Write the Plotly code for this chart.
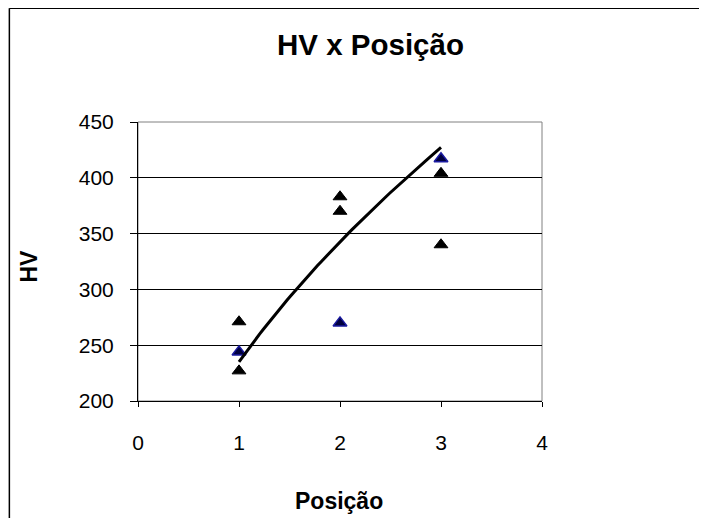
import plotly.graph_objects as go
import numpy as np

# Data
pos_black = [1, 1, 2, 2, 3, 3]
hv_black = [271, 227, 383, 370, 404, 340]
pos_blue = [1, 2, 3]
hv_blue = [244, 270, 417]

# Power trendline parameters (y = a * x^b)
trend_a = 235
trend_b = 0.544
trend_x = np.linspace(1, 3, 60)
trend_y = trend_a * trend_x ** trend_b

x_ticks = [0, 1, 2, 3, 4]
y_ticks = [200, 250, 300, 350, 400, 450]

OFF = 8  # page body offset
W, H = 707 - OFF, 518 - OFF
L = 137.5 - OFF
T = 122.3 - OFF
R = W - (541.7 - OFF)
B = H - (400.7 - OFF)
pw, ph = W - L - R, H - T - B

def px(x):  # screenshot x -> paper
    return (x - OFF - L) / pw

def py(y):  # screenshot y -> paper
    return (H - B - (y - OFF)) / ph

fig = go.Figure()
fig.add_trace(go.Scatter(x=pos_black, y=hv_black, mode="markers",
                         marker=dict(symbol="triangle-up", size=12, color="black",
                                     line=dict(color="black", width=1)),
                         showlegend=False))
fig.add_trace(go.Scatter(x=pos_blue, y=hv_blue, mode="markers",
                         marker=dict(symbol="triangle-up", size=12, color="#000040",
                                     line=dict(color="#1a1aa0", width=1.5)),
                         showlegend=False))
fig.add_trace(go.Scatter(x=trend_x, y=trend_y, mode="lines",
                         line=dict(color="black", width=3), showlegend=False))

font_family = "Liberation Sans, Arial, sans-serif"

fig.update_layout(
    width=W, height=H,
    margin=dict(l=L, r=R, t=T, b=B, pad=0),
    paper_bgcolor="white", plot_bgcolor="white",
    font=dict(family=font_family, color="black", size=21),
    xaxis=dict(range=[0, 4], tickvals=x_ticks, showgrid=False, zeroline=False,
               showline=True, linecolor="black", linewidth=1,
               ticks="outside", ticklen=5, tickcolor="black",
               tickfont=dict(size=21), ticklabelstandoff=18),
    yaxis=dict(range=[200, 450], tickvals=y_ticks, showgrid=True, gridcolor="black",
               gridwidth=1, zeroline=False,
               showline=True, linecolor="black", linewidth=1,
               ticks="outside", ticklen=7, tickcolor="black",
               tickfont=dict(size=21), ticklabelstandoff=12),
    shapes=[
        # plot-area border (gray)
        dict(type="rect", xref="paper", yref="paper", x0=0, x1=1, y0=0, y1=1,
             line=dict(color="#808080", width=1), layer="below"),
        # chart-area border: top and left edges only (others lie outside view)
        dict(type="line", xref="paper", yref="paper",
             x0=px(8.8), x1=px(720), y0=py(8.8), y1=py(8.8),
             line=dict(color="black", width=1.5)),
        dict(type="line", xref="paper", yref="paper",
             x0=px(8.8), x1=px(8.8), y0=py(8.8), y1=py(530),
             line=dict(color="black", width=1.5)),
    ],
    annotations=[
        dict(text="<b>HV x Posição</b>", xref="paper", yref="paper",
             x=px(370), y=py(45), xanchor="center", yanchor="middle",
             showarrow=False, font=dict(size=29.5, family=font_family)),
        dict(text="<b>Posição</b>", xref="paper", yref="paper",
             x=px(339), y=py(500), xanchor="center", yanchor="middle",
             showarrow=False, font=dict(size=23, family=font_family)),
        dict(text="<b>HV</b>", xref="paper", yref="paper",
             x=px(28), y=py(266), xanchor="center", yanchor="middle",
             textangle=-90, showarrow=False, font=dict(size=23, family=font_family)),
    ],
)

fig.write_html("out.html")
